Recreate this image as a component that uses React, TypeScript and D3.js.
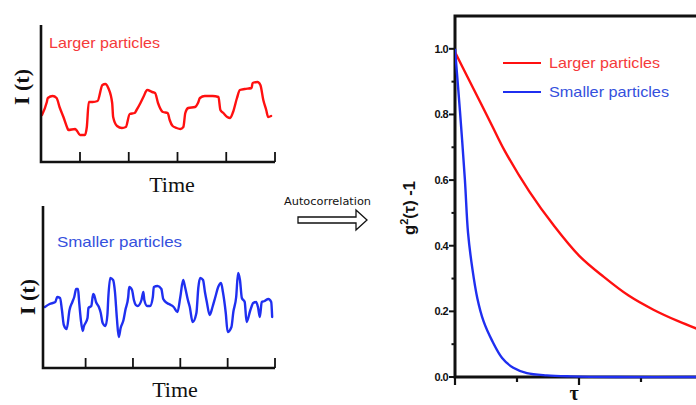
import React from "react";
import * as d3 from "d3";

const W = 696;
const H = 405;

// Intensity trace, larger particles (slow fluctuations)
const largeTime = [1, 6, 7, 12, 16, 19, 23, 27, 28, 35, 37, 40, 45, 47, 49, 53, 58, 63, 66, 69, 73, 74, 78, 83, 87, 91, 96, 98, 102, 105, 109, 114, 117, 120, 125, 130, 132, 135, 139, 143, 146, 148, 151, 158, 161, 163, 168, 176, 182, 184, 187, 191, 194, 197, 201, 204, 209, 216, 217, 222, 225, 228, 231, 233, 236];
const largeIntensity = [47, 60, 64, 66, 64, 55, 45, 34, 32, 33, 31, 27, 27, 35, 60, 60, 61, 77, 78, 74, 59, 45, 36, 34, 35, 48, 49, 52, 59, 65, 72, 70, 69, 59, 50, 49, 42, 36, 34, 33, 35, 49, 54, 55, 59, 64, 66, 66, 65, 52, 49, 45, 44, 50, 64, 72, 73, 74, 79, 80, 77, 62, 52, 45, 46];

// Intensity trace, smaller particles (fast fluctuations)
const smallTime = [2, 7, 13, 15, 18, 20, 22, 25, 28, 31, 33, 35, 37, 38, 40, 42, 43, 47, 48, 51, 53, 54, 56, 59, 61, 63, 66, 68, 69, 71, 74, 76, 78, 80, 82, 85, 87, 90, 91, 94, 96, 98, 100, 104, 106, 107, 110, 113, 116, 117, 121, 125, 127, 131, 135, 138, 142, 145, 148, 150, 153, 155, 158, 162, 164, 166, 169, 171, 173, 176, 179, 182, 185, 188, 190, 193, 195, 199, 201, 204, 206, 208, 210, 213, 215, 219, 222, 225, 227, 229, 231, 234, 238, 241, 242];
const smallIntensity = [61, 64, 66, 71, 70, 58, 43, 39, 58, 66, 71, 79, 79, 68, 48, 37, 41, 50, 60, 62, 74, 73, 66, 61, 55, 45, 42, 53, 71, 90, 88, 76, 50, 31, 40, 48, 58, 71, 81, 78, 68, 63, 62, 68, 76, 68, 62, 62, 71, 81, 82, 79, 69, 65, 63, 61, 56, 71, 88, 81, 68, 61, 46, 55, 80, 90, 88, 76, 66, 53, 61, 71, 81, 85, 76, 55, 36, 41, 56, 71, 95, 88, 70, 66, 46, 58, 65, 66, 61, 51, 66, 67, 69, 66, 51];

const largeTimeTicks = [40, 90, 140, 190, 240];
const smallTimeTicks = [45, 95, 145, 195, 245];

// Normalised intensity autocorrelation g2(tau) - 1
const tauLarge = [0, 0.1, 0.2, 0.3, 0.4, 0.6, 0.8, 1.0, 1.2, 1.4, 1.6, 1.8, 2.0];
const g2Large = [0.99, 0.915, 0.84, 0.765, 0.69, 0.565, 0.46, 0.37, 0.305, 0.248, 0.205, 0.17, 0.14];
const tauSmall = [0, 0.04, 0.08, 0.105, 0.14, 0.18, 0.23, 0.3, 0.38, 0.47, 0.58, 0.74, 0.93, 1.3, 2.0];
const g2Small = [1.0, 0.81, 0.6, 0.44, 0.33, 0.24, 0.17, 0.11, 0.058, 0.028, 0.012, 0.005, 0.002, 0, 0];

const gMajorTicks = [0, 0.2, 0.4, 0.6, 0.8, 1.0];
const gMinorTicks = [0.1, 0.3, 0.5, 0.7, 0.9];
const tauMajorTicks = [0, 1, 2];
const tauMinorTicks = [0.5, 1.5];

const seriesNames = ["Larger particles", "Smaller particles"];
const RED = "#ff1010";
const BLUE = "#1f2ff0";
const RED_TEXT = "#f53a3a";
const BLUE_TEXT = "#3550dd";

const SERIF = "'Liberation Serif', 'Times New Roman', serif";
const SANS = "'Liberation Sans', Arial, sans-serif";

type TraceProps = {
  time: number[];
  values: number[];
  ticks: number[];
  x0: number;
  x1: number;
  yTop: number;
  yBottom: number;
  vMax: number;
  color: string;
  label: string;
  labelColor: string;
  labelX: number;
  labelY: number;
  labelWidth: number;
  titleX: number;
  titleY: number;
  timeX: number;
  timeY: number;
};

function Trace(p: TraceProps) {
  const x = d3.scaleLinear().domain([0, p.ticks[p.ticks.length - 1]]).range([p.x0, p.x1]);
  const y = d3.scaleLinear().domain([0, p.vMax]).range([p.yBottom, p.yTop]);
  const pts = p.time.map((t, i) => [t, p.values[i]] as [number, number]);
  const line = d3
    .line<[number, number]>()
    .x((d) => x(d[0]))
    .y((d) => y(d[1]))
    .curve(d3.curveMonotoneX);
  return (
    <g>
      <text x={p.labelX} y={p.labelY} fill={p.labelColor} fontFamily={SANS} fontSize={14.5} textLength={p.labelWidth} lengthAdjust="spacingAndGlyphs">
        {p.label}
      </text>
      <path d={line(pts) ?? ""} fill="none" stroke={p.color} strokeWidth={2.4} strokeLinejoin="round" strokeLinecap="round" />
      {p.ticks.map((t) => (
        <line key={t} x1={x(t)} x2={x(t)} y1={p.yBottom} y2={p.yBottom - 10} stroke="#111" strokeWidth={1.8} />
      ))}
      <path
        d={`M${p.x0},${p.yTop} V${p.yBottom} H${p.x1}`}
        fill="none"
        stroke="#111"
        strokeWidth={2.6}
      />
      <text
        transform={`translate(${p.titleX},${p.titleY}) rotate(-90)`}
        textAnchor="middle"
        fontFamily={SERIF}
        fontWeight="bold"
        fontSize={22}
        fill="#111"
      >
        I (t)
      </text>
      <text x={p.timeX} y={p.timeY} textAnchor="middle" fontFamily={SERIF} fontSize={22} fill="#111">
        Time
      </text>
    </g>
  );
}

function Correlation() {
  const left = 455;
  const top = 16;
  const bottom = 377;
  const x = d3.scaleLinear().domain([0, 2]).range([left, 703]);
  const y = d3.scaleLinear().domain([0, 1.1]).range([bottom, top]);
  const line = d3
    .line<[number, number]>()
    .x((d) => x(d[0]))
    .y((d) => y(d[1]))
    .curve(d3.curveCatmullRom.alpha(0.5));
  const red = tauLarge.map((t, i) => [t, g2Large[i]] as [number, number]);
  const blue = tauSmall.map((t, i) => [t, g2Small[i]] as [number, number]);
  return (
    <g>
      <defs>
        <clipPath id="plot-area">
          <rect x={left} y={top} width={W - left} height={bottom - top + 2} />
        </clipPath>
      </defs>
      {/* frame */}
      <path d={`M${W + 5},${top} H${left} V${bottom} H${W + 5}`} fill="none" stroke="#111" strokeWidth={3} />
      {gMajorTicks.map((g) => (
        <g key={`gm${g}`}>
          <line x1={left - 6} x2={left} y1={y(g)} y2={y(g)} stroke="#111" strokeWidth={2} />
          <text
            x={left - 7}
            y={y(g) + 4}
            textAnchor="end"
            fontFamily={SANS}
            fontWeight="bold"
            fontSize={11}
            letterSpacing={-0.6}
            fill="#111"
          >
            {d3.format(".1f")(g)}
          </text>
        </g>
      ))}
      {gMinorTicks.map((g) => (
        <line key={`gn${g}`} x1={left - 3.5} x2={left} y1={y(g)} y2={y(g)} stroke="#111" strokeWidth={2} />
      ))}
      {tauMajorTicks.map((t) => (
        <line key={`tm${t}`} x1={x(t)} x2={x(t)} y1={bottom} y2={bottom + 8} stroke="#111" strokeWidth={2.2} />
      ))}
      {tauMinorTicks.map((t) => (
        <line key={`tn${t}`} x1={x(t)} x2={x(t)} y1={bottom} y2={bottom + 5} stroke="#111" strokeWidth={2.2} />
      ))}
      <g clipPath="url(#plot-area)">
        <path d={line(red) ?? ""} fill="none" stroke={RED} strokeWidth={2.4} />
        <path d={line(blue) ?? ""} fill="none" stroke={BLUE} strokeWidth={2.4} />
      </g>
      {/* legend */}
      {seriesNames.map((name, i) => (
        <g key={name}>
          <line x1={503} x2={541} y1={63 + i * 29} y2={63 + i * 29} stroke={i === 0 ? RED : BLUE} strokeWidth={2} />
          <text
            x={549}
            y={68 + i * 29}
            fontFamily={SANS}
            fontSize={14.5}
            fill={i === 0 ? RED_TEXT : BLUE_TEXT}
            textLength={i === 0 ? 111 : 120}
            lengthAdjust="spacingAndGlyphs"
          >
            {name}
          </text>
        </g>
      ))}
      {/* axis titles */}
      <text
        transform="translate(415,208) rotate(-90)"
        textAnchor="middle"
        fontFamily={SANS}
        fontWeight="bold"
        fontSize={16.5}
        fill="#111"
      >
        g<tspan dy={-7} fontSize={11}>2</tspan>
        <tspan dy={7}>(τ) -1</tspan>
      </text>
      <text x={574} y={400} textAnchor="middle" fontFamily={SERIF} fontWeight="bold" fontSize={20} fill="#111">
        τ
      </text>
    </g>
  );
}

function Arrow() {
  const shaft = [298, 356];
  const mid = 220;
  const pts = [
    [shaft[0], mid - 3],
    [shaft[1], mid - 3],
    [shaft[1], mid - 10],
    [367, mid],
    [shaft[1], mid + 10],
    [shaft[1], mid + 3],
    [shaft[0], mid + 3],
  ];
  return (
    <g>
      <text x={284} y={205} fontFamily="'DejaVu Sans', sans-serif" fontSize={10} fill="#111" textLength={87} lengthAdjust="spacingAndGlyphs">
        Autocorrelation
      </text>
      <polygon points={pts.map((p) => p.join(",")).join(" ")} fill="#fff" stroke="#111" strokeWidth={1.3} />
    </g>
  );
}

export default function App() {
  return (
    <svg
      width={W}
      height={H}
      viewBox={`0 0 ${W} ${H}`}
      style={{ position: "absolute", left: 0, top: 0, background: "#fff" }}
    >
      <rect width={W} height={H} fill="#fff" />
      <Trace
        time={largeTime}
        values={largeIntensity}
        ticks={largeTimeTicks}
        x0={41}
        x1={275}
        yTop={25}
        yBottom={162}
        vMax={137}
        color={RED}
        label={seriesNames[0]}
        labelColor={RED_TEXT}
        labelX={49}
        labelY={48}
        labelWidth={111}
        titleX={29}
        titleY={87}
        timeX={172}
        timeY={192}
      />
      <Trace
        time={smallTime}
        values={smallIntensity}
        ticks={smallTimeTicks}
        x0={43}
        x1={275}
        yTop={206}
        yBottom={368}
        vMax={162}
        color={BLUE}
        label={seriesNames[1]}
        labelColor={BLUE_TEXT}
        labelX={57}
        labelY={247}
        labelWidth={125}
        titleX={35}
        titleY={297}
        timeX={175}
        timeY={397}
      />
      <Arrow />
      <Correlation />
    </svg>
  );
}
